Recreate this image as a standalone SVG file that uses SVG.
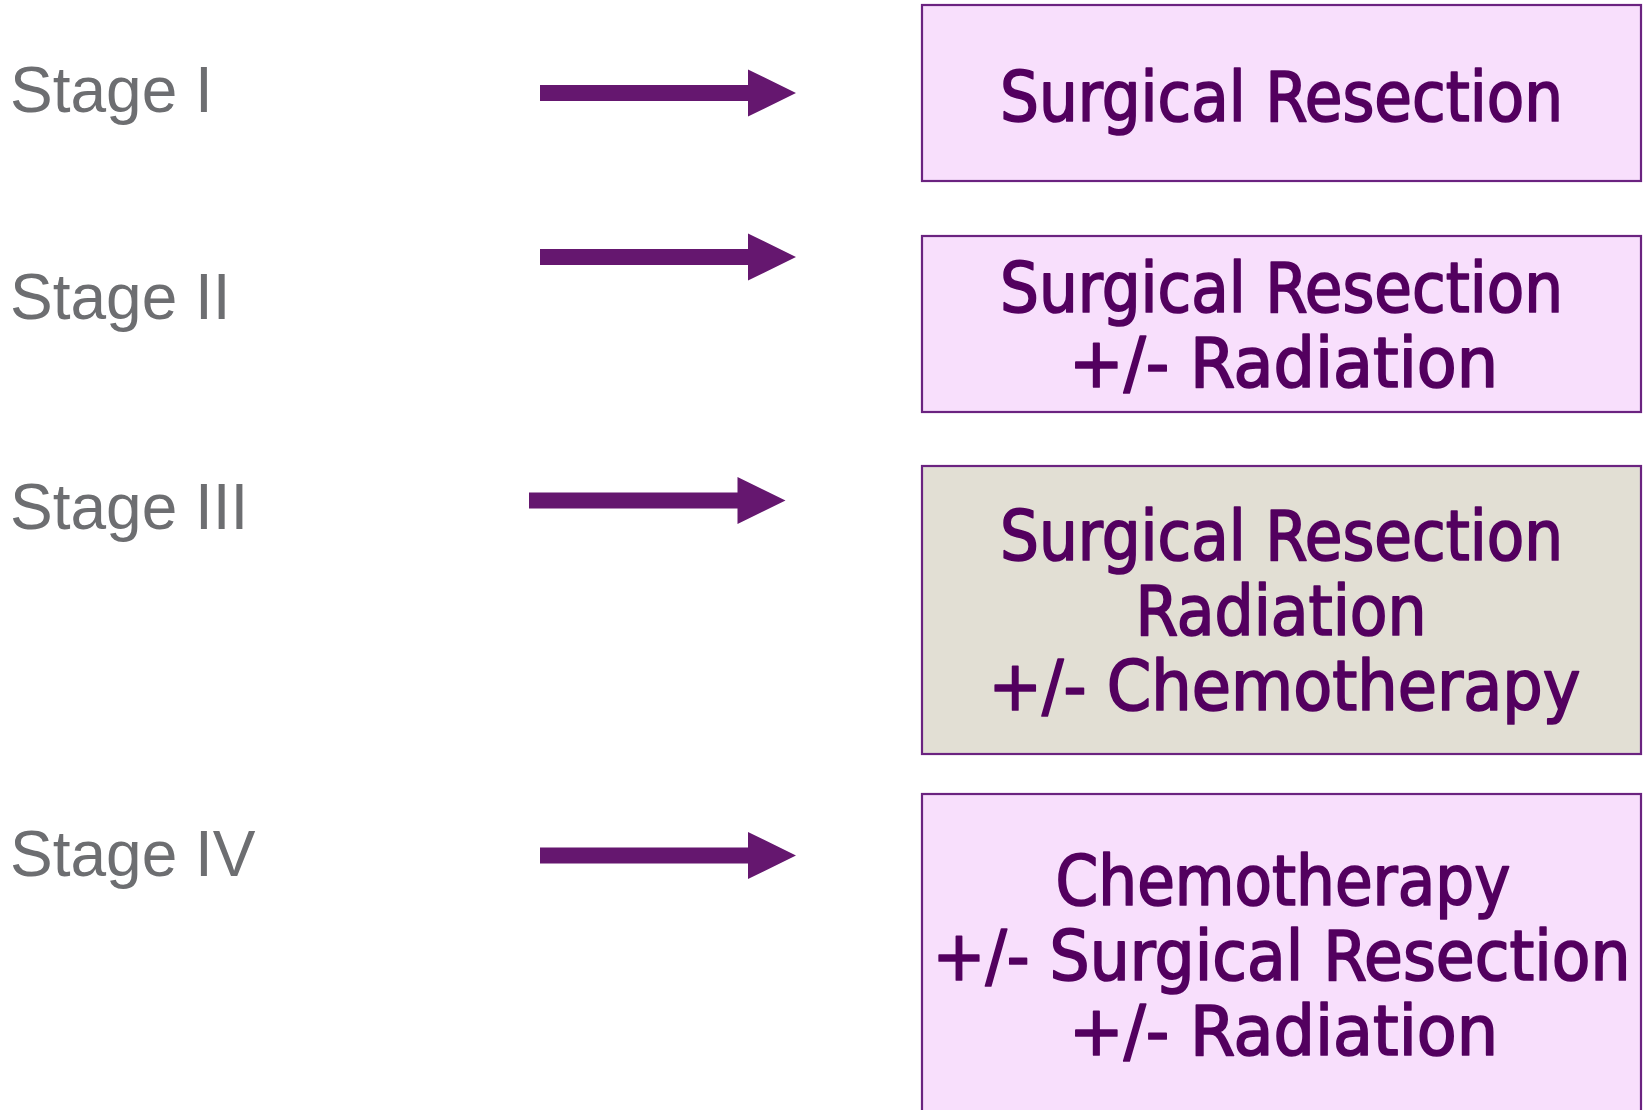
<svg xmlns="http://www.w3.org/2000/svg" width="1643" height="1110" viewBox="0 0 1643 1110">
<style>
.stage{font-family:"Liberation Sans",Arial,sans-serif;font-size:64px;fill:#6d6e71;}
.box{fill:#f8dffc;stroke:#6b2380;stroke-width:2.2;}
.box.alt{fill:#e2dfd4;}
.lbl{font-family:"DejaVu Sans Condensed","DejaVu Sans",sans-serif;font-size:70px;fill:#53005f;stroke:#53005f;stroke-width:1.7;stroke-linejoin:round;text-anchor:middle;}
.arrow{fill:#65176f;}
</style>
<rect width="1643" height="1110" fill="#ffffff"/>
<g id="stage1"><text class="stage" x="10" y="112">Stage I</text></g>
<g id="stage2"><text class="stage" x="10" y="319">Stage II</text></g>
<g id="stage3"><text class="stage" x="10" y="529">Stage III</text></g>
<g id="stage4"><text class="stage" x="10" y="876">Stage IV</text></g>
<g id="connectors">
<polygon class="arrow" points="540,85 748,85 748,69.5 796,93 748,116.5 748,101 540,101"/>
<polygon class="arrow" points="540,249 748,249 748,233.5 796,257 748,280.5 748,265 540,265"/>
<polygon class="arrow" points="529,492.5 737.5,492.5 737.5,477 785.5,500.5 737.5,524 737.5,508.5 529,508.5"/>
<polygon class="arrow" points="540,847.5 748,847.5 748,832 796,855.5 748,879 748,863.5 540,863.5"/>
</g>
<g id="box1">
<rect class="box" x="922" y="5" width="719" height="176"/>
<text class="lbl" x="1281.5" y="121" textLength="563" lengthAdjust="spacingAndGlyphs">Surgical Resection</text>
</g>
<g id="box2">
<rect class="box" x="922" y="236" width="719" height="176"/>
<text class="lbl" x="1281.5" y="312" textLength="563" lengthAdjust="spacingAndGlyphs">Surgical Resection</text>
<text class="lbl" x="1283.5" y="387" textLength="429" lengthAdjust="spacingAndGlyphs">+/- Radiation</text>
</g>
<g id="box3">
<rect class="box alt" x="922" y="466" width="719" height="288"/>
<text class="lbl" x="1281.5" y="560" textLength="563" lengthAdjust="spacingAndGlyphs">Surgical Resection</text>
<text class="lbl" x="1281" y="635" textLength="291" lengthAdjust="spacingAndGlyphs">Radiation</text>
<text class="lbl" x="1284.5" y="710" textLength="592" lengthAdjust="spacingAndGlyphs">+/- Chemotherapy</text>
</g>
<g id="box4">
<rect class="box" x="922" y="794" width="719" height="340"/>
<text class="lbl" x="1283" y="905" textLength="455" lengthAdjust="spacingAndGlyphs">Chemotherapy</text>
<text class="lbl" x="1281.5" y="980" textLength="698" lengthAdjust="spacingAndGlyphs">+/- Surgical Resection</text>
<text class="lbl" x="1283.5" y="1055" textLength="429" lengthAdjust="spacingAndGlyphs">+/- Radiation</text>
</g>
</svg>
